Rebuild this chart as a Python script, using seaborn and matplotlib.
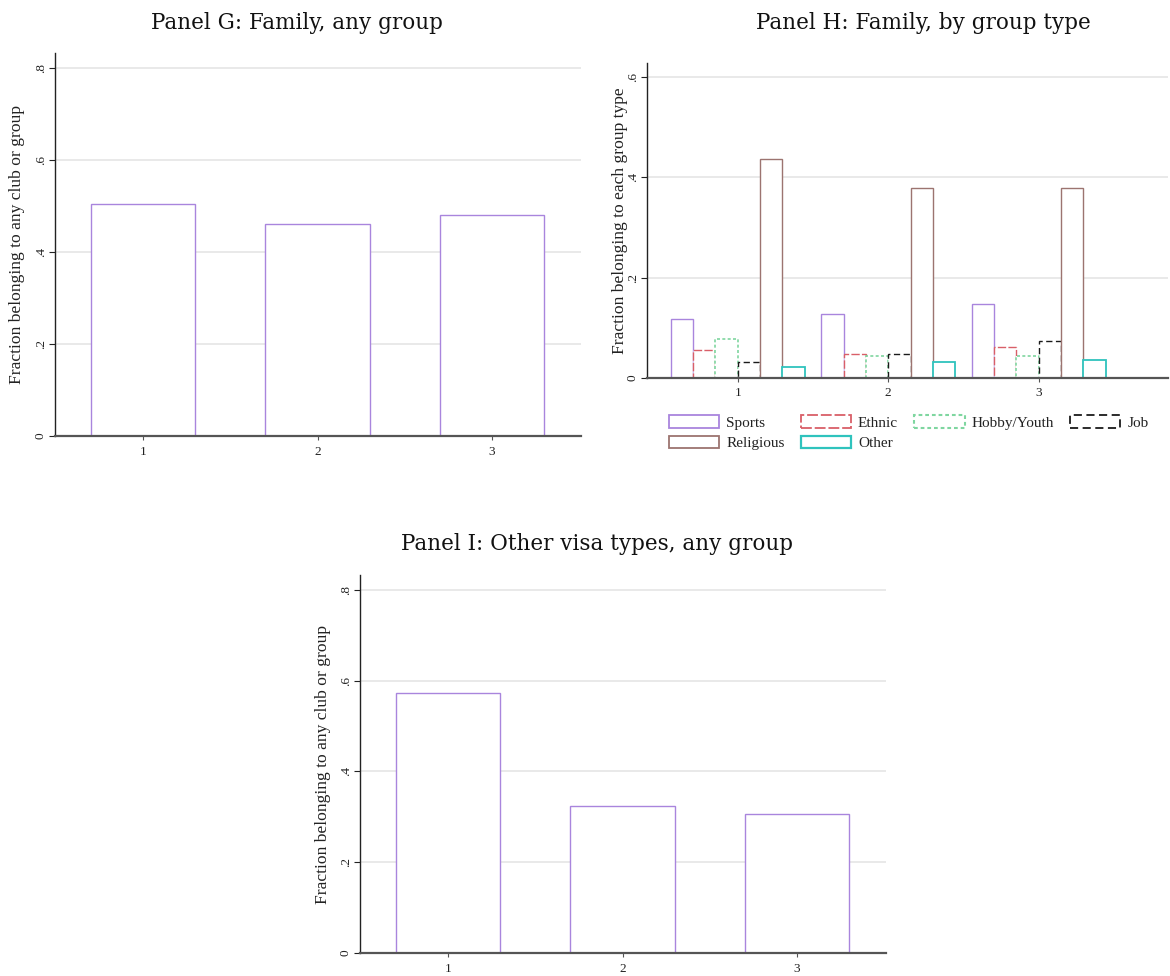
import matplotlib
matplotlib.use("Agg")
import matplotlib.pyplot as plt
import matplotlib.patches as mpatches
import seaborn as sns
import pandas as pd

# ---------------- data ----------------
periods = ["1", "2", "3"]
family_any = [0.505, 0.460, 0.481]
other_visa_any = [0.574, 0.324, 0.307]

group_types = ["Sports", "Ethnic", "Hobby/Youth", "Job", "Religious", "Other"]
sports = [0.118, 0.128, 0.147]
ethnic = [0.055, 0.048, 0.061]
hobby = [0.077, 0.043, 0.043]
job = [0.032, 0.047, 0.073]
religious = [0.436, 0.378, 0.378]
other = [0.022, 0.031, 0.035]

ytick_vals_08 = [0, 0.2, 0.4, 0.6, 0.8]
ytick_labs_08 = ["0", ".2", ".4", ".6", ".8"]
ytick_vals_06 = [0, 0.2, 0.4, 0.6]
ytick_labs_06 = ["0", ".2", ".4", ".6"]

titles = ["Panel G: Family, any group", "Panel H: Family, by group type",
          "Panel I: Other visa types, any group"]
ylab_any = "Fraction belonging to any club or group"
ylab_type = "Fraction belonging to each group type"

# ---------------- styling ----------------
sns.set_theme(style="white")
plt.rcParams["font.family"] = ["Liberation Serif", "DejaVu Serif"]

colors = {"Sports": "#a985dd", "Ethnic": "#d95f68", "Hobby/Youth": "#7fd6a0",
          "Job": "#1a1a1a", "Religious": "#9c7470", "Other": "#2fc3bd"}
styles = {"Sports": "-", "Ethnic": (0, (6, 1.6)), "Hobby/Youth": (0, (1.8, 1.4)),
          "Job": (0, (4.5, 2.5)), "Religious": "-", "Other": "-"}
widths = {"Sports": 1.0, "Ethnic": 1.0, "Hobby/Youth": 1.2, "Job": 1.0,
          "Religious": 1.0, "Other": 1.3}

W, H = 1170, 976
fig = plt.figure(figsize=(W / 100, H / 100), dpi=100)


def px_axes(l, r, top, bot):
    return fig.add_axes([l / W, 1 - bot / H, (r - l) / W, (bot - top) / H])


def style_axes(ax, yvals, ylabs, ylabel, ylab_x):
    ax.set_yticks(yvals)
    ax.set_yticklabels(ylabs, rotation=90, va="center")
    ax.yaxis.grid(True, color="#e3e3e3", linewidth=1.1)
    ax.xaxis.grid(False)
    ax.set_axisbelow(True)
    for s in ["top", "right"]:
        ax.spines[s].set_visible(False)
    ax.spines["left"].set_color("#222222")
    ax.spines["left"].set_linewidth(1.0)
    ax.spines["bottom"].set_color("#555555")
    ax.spines["bottom"].set_linewidth(1.6)
    ax.tick_params(axis="y", which="major", left=True, length=4, width=0.8,
                   color="#222222", labelsize=9.5, pad=2, labelcolor="#222222")
    ax.tick_params(axis="x", which="major", bottom=True, length=3, width=0.8,
                   color="#555555", labelsize=9.5, pad=4, labelcolor="#222222")
    ax.set_xlabel("")
    ax.set_ylabel(ylabel, fontsize=12.6, color="#222222")
    ax.yaxis.set_label_coords(ylab_x, 0.5)


def single_panel(ax, vals):
    df = pd.DataFrame({"period": periods, "value": vals})
    sns.barplot(data=df, x="period", y="value", color=colors["Sports"],
                saturation=1, width=0.6, errorbar=None, ax=ax)
    for p in ax.patches:
        p.set_edgecolor(colors["Sports"])
        p.set_facecolor("white")
        p.set_linewidth(1.0)
    ax.set_xlim(-0.505, 2.51)
    ax.set_ylim(0, 0.833)


# Panel G
axG = px_axes(55, 581, 53, 436)
single_panel(axG, family_any)
style_axes(axG, ytick_vals_08, ytick_labs_08, ylab_any, -0.057)

# Panel H
axH = px_axes(647, 1168, 62.7, 377.7)
dfH = pd.DataFrame({
    "period": periods * 6,
    "type": sum([[g] * 3 for g in group_types], []),
    "value": sports + ethnic + hobby + job + religious + other,
})
sns.barplot(data=dfH, x="period", y="value", hue="type", hue_order=group_types,
            palette=colors, saturation=1, width=0.89, errorbar=None,
            legend=False, ax=axH)
for g, cont in zip(group_types, axH.containers):
    for p in cont.patches:
        p.set_edgecolor(colors[g])
        p.set_facecolor("white")
        p.set_linestyle(styles[g])
        p.set_linewidth(widths[g])
axH.set_xlim(-0.603, 2.859)
axH.set_ylim(0, 0.629)
style_axes(axH, ytick_vals_06, ytick_labs_06, ylab_type, -0.037)

leg_order = ["Sports", "Religious", "Ethnic", "Other", "Hobby/Youth", "Job"]
handles = [mpatches.Patch(facecolor="white", edgecolor=colors[g],
                          linestyle=styles[g], linewidth=widths[g] + 0.3, label=g)
           for g in leg_order]
fig.legend(handles=handles, loc="upper left", bbox_to_anchor=(669 / W, 1 - 415 / H),
           ncol=4, frameon=False, fontsize=11, handlelength=3.3, handleheight=0.9,
           handletextpad=0.45, columnspacing=1.05, labelspacing=0.4, borderpad=0,
           borderaxespad=0, labelcolor="#222222")

# Panel I
axI = px_axes(360, 886, 575, 953)
single_panel(axI, other_visa_any)
style_axes(axI, ytick_vals_08, ytick_labs_08, ylab_any, -0.055)

# Titles
tfont = dict(fontsize=15.5, color="#111111", ha="center", va="center",
             family=["DejaVu Serif"])
fig.text(297 / W, 1 - 23 / H, titles[0], **tfont)
fig.text(923 / W, 1 - 23 / H, titles[1], **tfont)
fig.text(597 / W, 1 - 544 / H, titles[2], **tfont)

fig.savefig("out.png", dpi=100, facecolor="white")
